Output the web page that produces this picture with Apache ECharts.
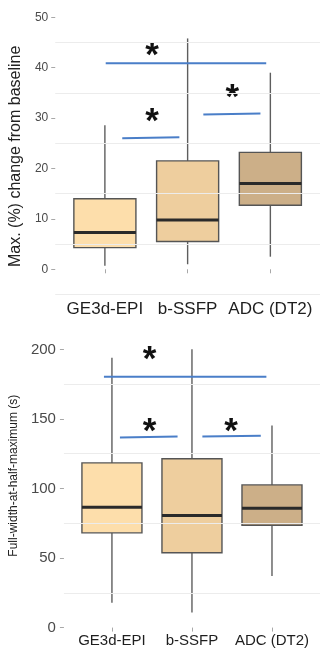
<!DOCTYPE html>
<html>
<head>
<meta charset="utf-8">
<script src="https://cdn.jsdelivr.net/npm/echarts@6/dist/echarts.min.js"></script>
<style>
html,body{margin:0;padding:0;background:#fff;}
#c{width:320px;height:648px;}
</style>
</head>
<body>
<div id="c"></div>
<script>
// ---- data ----
const categories = ['GE3d-EPI', 'b-SSFP', 'ADC (DT2)'];
const catPos = [1, 2, 3];
// [min, Q1, median, Q3, max]
const changeBoxes = [
  [0.7, 4.3, 7.3, 14.0, 28.6],
  [1.0, 5.5, 9.8, 21.5, 45.8],
  [2.5, 12.7, 17.0, 23.2, 39.0]
];
const fwhmBoxes = [
  [17.9, 68.1, 86.5, 118.4, 194.1],
  [10.8, 53.8, 80.6, 121.4, 200.1],
  [37.0, 73.6, 85.8, 102.6, 145.3]
];
const changeTicks = [0, 10, 20, 30, 40, 50];
const fwhmTicks = [0, 50, 100, 150, 200];
const changeGridValues = [-5, 5, 15, 25, 35, 45];
const fwhmGridValues = [25, 75, 125, 175];
// significance bars: [x1, y1, x2, y2]
const changeSigLines = [[1.01, 40.9, 2.95, 40.9], [1.21, 26.0, 1.90, 26.2], [2.19, 30.7, 2.88, 30.9]];
const fwhmSigLines = [[0.90, 180.3, 2.93, 180.3], [1.10, 136.7, 1.82, 137.4], [2.13, 137.4, 2.86, 138.0]];
// asterisks: [x, y]
const changeStars = [[1.57, 43.6], [1.57, 30.6], [2.54, 35.4]];
const fwhmStars = [[1.47, 196.9], [1.47, 145.5], [2.49, 145.5]];

// ---- styles ----
const fills = ['#FDDEAB', '#EECE9E', '#CCAF88'];
const FONT = "'Liberation Sans', Arial, Helvetica, sans-serif";

function boxRows(boxes) { return boxes.map((b, i) => [catPos[i]].concat(b)); }

function boxRender(params, api) {
  const x = api.value(0);
  const w = api.size([0.75, 0])[0];
  const pMin = api.coord([x, api.value(1)]);
  const pQ1 = api.coord([x, api.value(2)]);
  const pMed = api.coord([x, api.value(3)]);
  const pQ3 = api.coord([x, api.value(4)]);
  const pMax = api.coord([x, api.value(5)]);
  const cx = pMin[0];
  const ws = {stroke: '#5e5e5e', lineWidth: 1.4};
  return {type: 'group', children: [
    {type: 'line', shape: {x1: cx, y1: pMax[1], x2: cx, y2: pQ3[1]}, style: ws},
    {type: 'line', shape: {x1: cx, y1: pQ1[1], x2: cx, y2: pMin[1]}, style: ws},
    {type: 'rect', shape: {x: cx - w / 2, y: pQ3[1], width: w, height: pQ1[1] - pQ3[1]},
      style: {fill: fills[params.dataIndex], stroke: '#555555', lineWidth: 1.4}},
    {type: 'line', shape: {x1: cx - w / 2, y1: pMed[1], x2: cx + w / 2, y2: pMed[1]},
      style: {stroke: '#2a2a2a', lineWidth: 3}}
  ]};
}
function sigRender(params, api) {
  const a = api.coord([api.value(0), api.value(1)]);
  const b = api.coord([api.value(2), api.value(3)]);
  return {type: 'line', shape: {x1: a[0], y1: a[1], x2: b[0], y2: b[1]},
    style: {stroke: '#4a7ec8', lineWidth: 2}};
}
function starRender(params, api) {
  const p = api.coord([api.value(0), api.value(1)]);
  return {type: 'text', x: p[0], y: p[1] + 7,
    style: {text: '*', fontSize: 35, fontWeight: 'bold', fontFamily: FONT, fill: '#111',
      align: 'center', verticalAlign: 'middle'}};
}

function xAxisCfg(gi, fs, margin) {
  return {
    type: 'value', gridIndex: gi, min: 0.4, max: 3.6,
    axisLine: {show: false}, splitLine: {show: false},
    axisTick: {show: true, customValues: catPos, length: 4, lineStyle: {color: '#a8a8a8', width: 1}},
    axisLabel: {customValues: catPos, formatter: v => categories[Math.round(v) - 1],
      fontSize: fs, color: '#1e1e1e', fontFamily: FONT, margin: margin}
  };
}
function yAxisCfg(gi, min, max, ticks, name, nfs, gap, pad, lfs, lmargin) {
  return {
    type: 'value', gridIndex: gi, min: min, max: max,
    axisLine: {show: false}, splitLine: {show: false},
    axisTick: {show: true, customValues: ticks, length: 4, lineStyle: {color: '#a8a8a8', width: 1}},
    axisLabel: {customValues: ticks, fontSize: lfs, color: '#4a4a4a', fontFamily: FONT, margin: lmargin},
    name: name, nameLocation: 'middle', nameGap: gap,
    nameTextStyle: {fontSize: nfs, color: '#222', fontFamily: FONT, padding: pad}
  };
}
function gridLines(values, idx) {
  return {
    type: 'line', xAxisIndex: idx, yAxisIndex: idx, data: [], z: 1, silent: true,
    markLine: {silent: true, symbol: ['none', 'none'], label: {show: false},
      lineStyle: {color: '#ececec', width: 1, type: 'solid'}, animation: false,
      data: values.map(v => ({yAxis: v}))}
  };
}

const chart = echarts.init(document.getElementById('c'), null, {renderer: 'canvas'});
chart.setOption({
  animation: false,
  backgroundColor: '#ffffff',
  grid: [
    {left: 49.1, right: -5.9, top: 9.7, bottom: 648 - 295},
    {left: 61.5, right: -5.5, top: 338.3, bottom: 648 - 628.7}
  ],
  xAxis: [xAxisCfg(0, 17, 6), xAxisCfg(1, 15, 5)],
  yAxis: [
    yAxisCfg(0, -5.1, 51.5, changeTicks, 'Max. (%) change from baseline', 16, 22, [0, 8, 0, 0], 12, 7),
    yAxisCfg(1, -0.3, 208, fwhmTicks, 'Full-width-at-half-maximum (s)', 12, 35, [0, 0, 0, 15], 15, 8)
  ],
  series: [
    gridLines(changeGridValues, 0),
    gridLines(fwhmGridValues, 1),
    {type: 'custom', xAxisIndex: 0, yAxisIndex: 0, z: 2, renderItem: boxRender,
      encode: {x: 0, y: [1, 2, 3, 4, 5]}, data: boxRows(changeBoxes)},
    {type: 'custom', xAxisIndex: 1, yAxisIndex: 1, z: 2, renderItem: boxRender,
      encode: {x: 0, y: [1, 2, 3, 4, 5]}, data: boxRows(fwhmBoxes)},
    {type: 'custom', xAxisIndex: 0, yAxisIndex: 0, z: 3, renderItem: sigRender,
      encode: {x: [0, 2], y: [1, 3]}, data: changeSigLines},
    {type: 'custom', xAxisIndex: 1, yAxisIndex: 1, z: 3, renderItem: sigRender,
      encode: {x: [0, 2], y: [1, 3]}, data: fwhmSigLines},
    {type: 'custom', xAxisIndex: 0, yAxisIndex: 0, z: 4, renderItem: starRender,
      encode: {x: 0, y: 1}, data: changeStars},
    {type: 'custom', xAxisIndex: 1, yAxisIndex: 1, z: 4, renderItem: starRender,
      encode: {x: 0, y: 1}, data: fwhmStars}
  ]
});
</script>
</body>
</html>
